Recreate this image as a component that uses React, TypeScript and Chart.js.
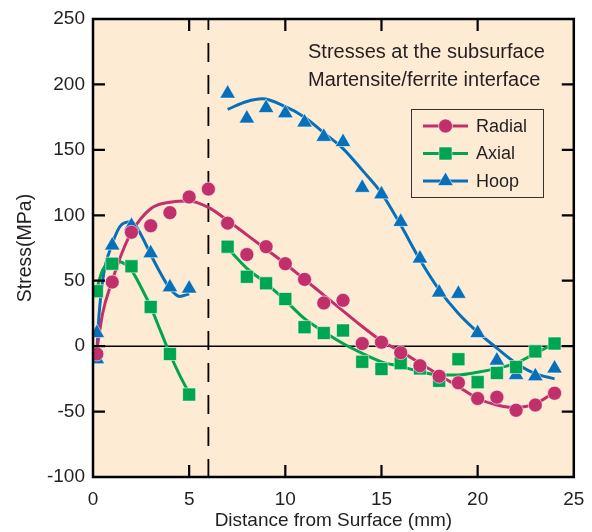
import React, { useEffect, useRef } from "react";
import { Chart, registerables } from "chart.js";

Chart.register(...registerables);

// ---- Data ----
const radialX = [0.2, 1, 2, 3, 4, 5, 6, 7, 8, 9, 10, 11, 12, 13, 14, 15, 16, 17, 18, 19, 20, 21, 22, 23, 24];
const radialY = [-6, 49, 87, 92, 102, 114, 120, 94, 70, 76, 63, 51, 33, 35, 2, 3, -5, -15, -23, -28, -40, -39, -49, -45, -36];

const axialX = [0.2, 1, 2, 3, 4, 5, 7, 8, 9, 10, 11, 12, 13, 14, 15, 16, 17, 18, 19, 20, 21, 22, 23, 24];
const axialY = [42, 63, 61, 30, -6, -37, 76, 53, 48, 36, 14.5, 10, 12, -12, -17.5, -13, -17, -26.5, -10, -27.5, -20.5, -16, -4, 2];

const hoopX = [0.2, 0.2, 1, 2, 3, 4, 5, 7, 8, 9, 10, 11, 12, 13, 14, 15, 16, 17, 18, 19, 20, 21, 22, 23, 24];
const hoopY = [10, -10, 77, 92, 71, 45, 44, 193, 174, 182, 178, 171, 160, 156, 121, 116, 95, 67, 41, 40, 10, -11, -22, -23, -17];

// Fitted curves
const radialFitX = [0.2, 0.5, 1, 1.5, 2, 3, 4, 5, 6, 7, 8, 9, 10, 11, 12, 13, 14, 15, 16, 17, 18, 19, 20, 21, 22, 23, 24];
const radialFitY = [-3, 25, 50, 71, 87, 105, 110, 111, 106, 96, 85, 74, 63, 51, 39, 27, 15, 4, -4, -13, -22, -31, -40, -45, -47, -44, -35];

const axialFit1X = [0.2, 0.5, 1, 1.5, 2, 2.5, 3, 3.5, 4, 4.5, 5];
const axialFit1Y = [44, 58, 65, 64, 58, 45, 30, 12, -6, -22, -36];
const axialFit2X = [7, 8, 9, 10, 11, 12, 13, 14, 15, 16, 17, 18, 19, 20, 21, 22, 23, 24];
const axialFit2Y = [75, 59.5, 48, 35, 21, 11, 2, -5.5, -12, -15.5, -19.5, -22, -22, -20, -17, -13, -5.5, 2];

const hoopFit1X = [0.2, 0.25, 0.5, 1, 1.5, 2, 2.5, 3, 3.5, 4, 4.5, 5];
const hoopFit1Y = [-8, 10, 50, 78, 93, 95, 85, 70, 56, 44, 38, 40];
const hoopFit2X = [7, 8, 8.8, 10, 11, 12, 13, 14, 15, 16, 17, 18, 19, 20, 21, 22, 23, 24];
const hoopFit2Y = [181, 187, 189, 183, 175, 163, 151, 134.5, 117, 92.5, 66, 43, 25, 10.7, -1.5, -13, -21, -25];

const xTicks = [0, 5, 10, 15, 20, 25];
const yTicks = [-100, -50, 0, 50, 100, 150, 200, 250];

const seriesNames = ["Radial", "Axial", "Hoop"];
const noteLines = ["Stresses at the subsurface", "Martensite/ferrite interface"];
const interfaceX = 6;

const RADIAL = "#C1306A";
const AXIAL = "#00A54F";
const HOOP = "#0870B8";
const BG = "#FDEBD4";
const TEXT = "#231F20";
const FONT = "'Liberation Sans', Arial, sans-serif";

const pts = (xs: number[], ys: number[]) => xs.map((x, i) => ({ x, y: ys[i] }));

function drawMarker(ctx: CanvasRenderingContext2D, kind: number, mx: number, cy: number) {
  ctx.beginPath();
  if (kind === 0) ctx.arc(mx, cy, 7, 0, Math.PI * 2);
  else if (kind === 1) ctx.rect(mx - 6.5, cy - 6.5, 13, 13);
  else {
    ctx.moveTo(mx, cy - 9);
    ctx.lineTo(mx + 7.8, cy + 4.5);
    ctx.lineTo(mx - 7.8, cy + 4.5);
    ctx.closePath();
  }
  ctx.fill();
  ctx.stroke();
}

const decorPlugin = {
  id: "decor",
  beforeDraw(chart: any) {
    const { ctx, chartArea: a } = chart;
    ctx.save();
    ctx.fillStyle = BG;
    ctx.fillRect(a.left, a.top, a.right - a.left, a.bottom - a.top);
    ctx.restore();
  },
  beforeDatasetsDraw(chart: any) {
    const { ctx, chartArea: a, scales } = chart;
    ctx.save();
    // zero line
    const y0 = scales.y.getPixelForValue(0);
    ctx.strokeStyle = "#000";
    ctx.lineWidth = 1.5;
    ctx.beginPath();
    ctx.moveTo(a.left, y0);
    ctx.lineTo(a.right, y0);
    ctx.stroke();
    // interface dashed line
    const xi = scales.x.getPixelForValue(interfaceX);
    ctx.setLineDash([19, 13]);
    ctx.lineDashOffset = 8;
    ctx.lineWidth = 1.8;
    ctx.beginPath();
    ctx.moveTo(xi, a.top);
    ctx.lineTo(xi, a.bottom);
    ctx.stroke();
    ctx.restore();
  },
  afterDraw(chart: any) {
    const { ctx, chartArea: a, scales } = chart;
    ctx.save();
    // inward ticks
    ctx.strokeStyle = "#000";
    ctx.lineWidth = 2.2;
    const L = 12;
    xTicks.forEach((v) => {
      if (v === xTicks[0] || v === xTicks[xTicks.length - 1]) return;
      const x = scales.x.getPixelForValue(v);
      ctx.beginPath();
      ctx.moveTo(x, a.bottom);
      ctx.lineTo(x, a.bottom - L);
      ctx.moveTo(x, a.top);
      ctx.lineTo(x, a.top + L);
      ctx.stroke();
    });
    yTicks.forEach((v) => {
      if (v === yTicks[0] || v === yTicks[yTicks.length - 1]) return;
      const y = scales.y.getPixelForValue(v);
      ctx.beginPath();
      ctx.moveTo(a.left, y);
      ctx.lineTo(a.left + L, y);
      ctx.moveTo(a.right, y);
      ctx.lineTo(a.right - L, y);
      ctx.stroke();
    });
    // frame
    ctx.lineWidth = 2.5;
    ctx.strokeRect(a.left, a.top, a.right - a.left, a.bottom - a.top);

    // note text
    ctx.fillStyle = TEXT;
    ctx.font = `20px ${FONT}`;
    ctx.textAlign = "left";
    ctx.textBaseline = "middle";
    ctx.fillText(noteLines[0], a.left + 215, a.top + 33);
    ctx.fillText(noteLines[1], a.left + 215, a.top + 61);

    // legend box
    const bx = a.left + 318;
    const by = a.top + 90;
    const bw = 132;
    const bh = 88;
    ctx.strokeStyle = "#333";
    ctx.lineWidth = 1;
    ctx.strokeRect(bx + 0.5, by + 0.5, bw, bh);
    const colors = [RADIAL, AXIAL, HOOP];
    seriesNames.forEach((name, i) => {
      const cy = by + 17 + i * 27.5;
      const x1 = bx + 12;
      const x2 = bx + 57;
      ctx.strokeStyle = colors[i];
      ctx.lineWidth = 3;
      ctx.beginPath();
      ctx.moveTo(x1, cy);
      ctx.lineTo(x2, cy);
      ctx.stroke();
      ctx.fillStyle = colors[i];
      ctx.strokeStyle = "rgba(255,255,255,0.55)";
      ctx.lineWidth = 1;
      drawMarker(ctx, i, (x1 + x2) / 2, cy);
      ctx.fillStyle = TEXT;
      ctx.font = `18px ${FONT}`;
      ctx.textAlign = "left";
      ctx.fillText(name, bx + 65, cy + 1);
    });
    ctx.restore();
  },
};

export default function App() {
  const ref = useRef<HTMLCanvasElement | null>(null);
  useEffect(() => {
    if (!ref.current) return;
    const markerBorder = "rgba(255,255,255,0.55)";
    const fitLine = (data: any[], color: string) => ({
      type: "line" as const,
      data,
      borderColor: color,
      borderWidth: 3,
      pointRadius: 0,
      showLine: true,
      fill: false,
      cubicInterpolationMode: "monotone" as const,
      order: 2,
    });
    const marks = (data: any[], color: string, style: string, r: number) => ({
      type: "scatter" as const,
      data,
      backgroundColor: color,
      borderColor: markerBorder,
      borderWidth: 1,
      pointStyle: style,
      pointRadius: r,
      showLine: false,
      order: 1,
    });
    const chart = new Chart(ref.current, {
      type: "scatter",
      data: {
        datasets: [
          marks(pts(radialX, radialY), RADIAL, "circle", 7),
          marks(pts(axialX, axialY), AXIAL, "rect", 9.2),
          marks(pts(hoopX, hoopY), HOOP, "triangle", 9),
          fitLine(pts(radialFitX, radialFitY), RADIAL),
          fitLine(pts(axialFit1X, axialFit1Y), AXIAL),
          fitLine(pts(axialFit2X, axialFit2Y), AXIAL),
          fitLine(pts(hoopFit1X, hoopFit1Y), HOOP),
          fitLine(pts(hoopFit2X, hoopFit2Y), HOOP),
        ] as any,
      },
      options: {
        animation: false,
        responsive: false,
        maintainAspectRatio: false,
        layout: { padding: { top: 11, right: 10, left: 0, bottom: 0 } },
        plugins: { legend: { display: false }, tooltip: { enabled: false } },
        scales: {
          x: {
            type: "linear",
            min: 0,
            max: 25,
            afterBuildTicks: (s: any) => {
              s.ticks = xTicks.map((v) => ({ value: v }));
            },
            afterFit: (s: any) => {
              s.height = 55;
              s.paddingLeft = 0;
              s.paddingRight = 0;
              s.paddingTop = 0;
              s.paddingBottom = 0;
            },
            grid: { display: false, drawTicks: false },
            border: { display: false },
            ticks: { color: TEXT, font: { size: 19, family: FONT }, padding: 11, maxRotation: 0 },
            title: {
              display: true,
              text: "Distance from Surface (mm)",
              color: TEXT,
              font: { size: 19, family: FONT },
              padding: { top: 1, bottom: 0 },
            },
          },
          y: {
            type: "linear",
            min: -100,
            max: 250,
            afterBuildTicks: (s: any) => {
              s.ticks = yTicks.map((v) => ({ value: v }));
            },
            afterFit: (s: any) => {
              s.width = 85;
              s.paddingLeft = 0;
              s.paddingRight = 0;
              s.paddingTop = 0;
              s.paddingBottom = 0;
            },
            grid: { display: false, drawTicks: false },
            border: { display: false },
            ticks: { color: TEXT, font: { size: 19, family: FONT }, padding: 8 },
            title: {
              display: true,
              text: "Stress(MPa)",
              color: TEXT,
              font: { size: 19.5, family: FONT },
              padding: { top: 6, bottom: 0 },
            },
          },
        },
      },
      plugins: [decorPlugin],
    });
    return () => chart.destroy();
  }, []);
  return (
    <div style={{ width: 576, height: 524 }}>
      <canvas ref={ref} width={576} height={524} style={{ width: 576, height: 524 }} />
    </div>
  );
}
